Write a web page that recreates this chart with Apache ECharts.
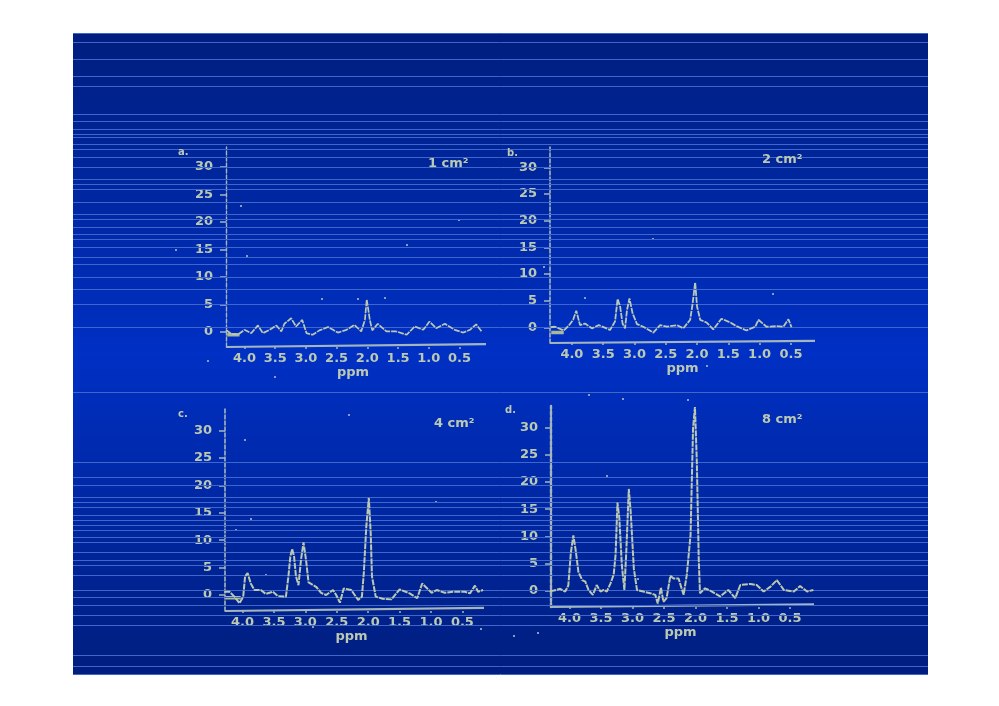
<!DOCTYPE html>
<html><head><meta charset="utf-8">
<style>html,body{margin:0;padding:0;background:#fff}#c{width:999px;height:706px}</style>
<script src="https://cdn.jsdelivr.net/npm/echarts@6/dist/echarts.min.js"></script>
</head><body><div id="c"></div>
<script>
const yTicks = [0,5,10,15,20,25,30];
const xTicks = [4.0,3.5,3.0,2.5,2.0,1.5,1.0,0.5];
const panelLetters = ['a.','b.','c.','d.'];
const panelAreas = ['1 cm²','2 cm²','4 cm²','8 cm²'];

const ppmA = [4.30,4.22,4.11,4.00,3.89,3.78,3.70,3.59,3.48,3.40,3.35,3.24,3.16,3.06,2.99,2.89,2.78,2.64,2.56,2.48,2.34,2.21,2.10,2.04,2.01,1.96,1.92,1.83,1.69,1.53,1.36,1.23,1.09,0.99,0.88,0.74,0.58,0.44,0.33,0.23,0.14];
const intA = [0.4,-0.3,-0.5,0.4,-0.2,1.2,-0.2,0.4,1.2,0.1,1.5,2.5,1,2.2,-0.2,-0.5,0.3,0.9,0.4,-0.1,0.4,1.3,0.1,2.2,5.9,2.2,0.3,1.5,0.1,0.1,-0.5,1,0.4,1.9,0.7,1.5,0.4,-0.1,0.4,1.4,0.1];

const ppmB = [4.34,4.27,4.13,4.05,3.98,3.93,3.87,3.79,3.68,3.57,3.39,3.31,3.27,3.23,3.19,3.15,3.12,3.08,3.03,2.96,2.86,2.70,2.59,2.48,2.32,2.22,2.11,2.07,2.03,2.00,1.95,1.85,1.74,1.61,1.47,1.37,1.21,1.07,1.02,0.89,0.73,0.62,0.54,0.49];
const intB = [0,0.1,-0.6,0.3,1.4,3.1,0.4,0.7,-0.2,0.4,-0.5,1.1,5.3,3.9,0.7,-0.2,3.2,5.4,2.6,0.6,0.1,-1,0.4,0.1,0.4,-0.2,1.4,4.5,8.4,3.9,1.4,0.9,-0.4,1.6,0.9,0.2,-0.6,0.1,1.4,0.1,0.2,0.1,1.5,0];

const ppmC = [4.29,4.21,4.13,4.05,3.99,3.96,3.92,3.87,3.81,3.71,3.63,3.52,3.44,3.31,3.27,3.24,3.21,3.18,3.15,3.11,3.07,3.03,2.99,2.95,2.83,2.75,2.67,2.56,2.51,2.45,2.39,2.27,2.16,2.10,2.07,2.03,1.99,1.96,1.94,1.88,1.77,1.63,1.50,1.34,1.22,1.14,0.99,0.91,0.78,0.65,0.46,0.38,0.30,0.25,0.17];
const intC = [0.6,0.6,-0.3,-1.5,-0.3,3.4,4,2.1,0.9,0.9,0.2,0.6,-0.2,-0.3,3.4,7,8.4,7,3.4,1.8,6.4,9.6,6.4,2.3,1.5,0.4,0,0.9,0,-1.4,1.2,0.9,-0.9,-0.3,4,12.5,17.7,11.3,3.4,-0.3,-0.7,-0.8,1,0.3,-0.6,2.1,0.4,0.9,0.4,0.6,0.6,0.3,1.7,0.6,0.9];

const ppmD = [4.31,4.25,4.15,4.07,4.02,3.98,3.94,3.90,3.86,3.80,3.75,3.70,3.63,3.57,3.51,3.46,3.41,3.35,3.30,3.27,3.24,3.21,3.17,3.13,3.10,3.06,3.03,2.98,2.93,2.83,2.72,2.64,2.60,2.55,2.51,2.46,2.40,2.35,2.27,2.19,2.14,2.08,2.04,2.01,1.98,1.95,1.93,1.85,1.74,1.61,1.48,1.37,1.29,1.13,1.03,0.92,0.81,0.71,0.60,0.44,0.34,0.23,0.13];
const intD = [0,0.1,0.4,-0.1,1,7,10.2,7.2,3.5,2,1.7,0.2,-0.7,1.1,-0.1,0.2,-0.1,1.4,3,6.6,16.2,13.3,4.7,0.2,7.2,18.7,14.5,4.1,0.2,-0.1,-0.4,-0.7,-2.3,0.6,-2,-1.3,2.8,2.3,2.3,-0.7,2.9,10.2,29.8,33.7,23.7,6,-0.4,0.5,-0.1,-1,0.2,-1.3,1.1,1.3,1.1,-0.1,0.8,2,0.2,-0.1,0.9,-0.1,0.2];

const scanLines = [42,59,76,86,114,121,129,134,137,144,149,157,167,179,184,189,202,214,219,227,234,239,247,257,264,277,289,304,327,392,462,477,485,497,502,507,515,520,525,530,537,542,552,560,565,575,590,597,605,615,625,655,666];
const specks = [[241,206],[247,256],[459,220],[407,245],[176,250],[358,299],[385,298],[322,299],[275,377],[208,361],[653,239],[585,298],[773,294],[544,267],[707,366],[349,415],[245,440],[251,519],[436,502],[236,530],[266,575],[481,629],[313,627],[589,395],[623,399],[688,400],[607,476],[638,579],[538,633],[514,636]];

const layout = [
 {ppm:ppmA,int:intA,left:226,right:486,top:147,bottom:347,xMax:4.30,xMin:0.07,yMin:-2.72,yMax:33.6,yEnd:-2.18,nameGap:18,nameShift:3,labelX:178,labelY:153,areaX:428,areaY:165,axisW:1.4,lineW:1.7,stub:[4.28,4.08,-0.5]},
 {ppm:ppmB,int:intB,left:550,right:815,top:147,bottom:343,xMax:4.35,xMin:0.115,yMin:-2.95,yMax:33.8,yEnd:-2.57,nameGap:19,nameShift:0,labelX:507,labelY:154,areaX:762,areaY:161,axisW:1.6,lineW:1.8,stub:[4.33,4.13,-1.0]},
 {ppm:ppmC,int:intC,left:225,right:484,top:408,bottom:611,xMax:4.28,xMin:0.156,yMin:-2.92,yMax:34.1,yEnd:-2.34,nameGap:18,nameShift:3,labelX:178,labelY:415,areaX:434,areaY:425,axisW:1.6,lineW:2,stub:[4.27,4.03,-0.5]},
 {ppm:ppmD,int:intD,left:551,right:814,top:406,bottom:607,xMax:4.295,xMin:0.12,yMin:-2.93,yMax:33.9,yEnd:-2.44,nameGap:19,nameShift:2,labelX:505,labelY:411,areaX:762,areaY:421,axisW:2.4,lineW:2,stub:null}
];

const SAGE = '#bcc9b2', AX = '#a4b6bd';
const font = {fontFamily:'DejaVu Sans',fontWeight:'bold',color:SAGE};
const chart = echarts.init(document.getElementById('c'),null,{renderer:'canvas'});

const grid=[{left:73,top:33,width:855,height:641,show:true,borderWidth:0,
  backgroundColor:new echarts.graphic.LinearGradient(0,0,0,1,[{offset:0,color:'#001e7e'},{offset:0.5,color:'#0030c4'},{offset:1,color:'#001e7e'}])}];
const xAxis=[{gridIndex:0,type:'value',min:73,max:928,show:false}];
const yAxis=[{gridIndex:0,type:'value',min:33,max:674,inverse:true,show:false}];
const series=[
 {type:'line',xAxisIndex:0,yAxisIndex:0,data:[],silent:true,z:1,
  markLine:{silent:true,symbol:'none',animation:false,label:{show:false},
    lineStyle:{color:'#3f66cc',width:1,type:'solid'},data:[33,...scanLines,674].map(v=>({yAxis:v}))}},
 {type:'scatter',xAxisIndex:0,yAxisIndex:0,data:specks,symbol:'rect',symbolSize:2,silent:true,z:2,itemStyle:{color:'#a9bccf'}}
];
const texts=[];

layout.forEach((p,i)=>{
  const g=i+1;
  grid.push({left:p.left,top:p.top,width:p.right-p.left,height:p.bottom-p.top,z:3});
  xAxis.push({gridIndex:g,type:'value',inverse:true,min:p.xMin,max:p.xMax,
    name:'ppm',nameLocation:'middle',nameGap:p.nameGap,
    nameTextStyle:{...font,fontSize:13,padding:[0,p.nameShift*2,0,0]},
    axisLine:{show:false,onZero:false},splitLine:{show:false},
    axisTick:{show:true,customValues:xTicks,length:2,lineStyle:{color:AX,width:1.5}},
    axisLabel:{show:true,customValues:xTicks,formatter:v=>v.toFixed(1),...font,fontSize:13,margin:5}});
  yAxis.push({gridIndex:g,type:'value',min:p.yMin,max:p.yMax,position:'left',
    axisLine:{show:true,onZero:false,lineStyle:{color:AX,width:p.axisW,type:[4,2]}},splitLine:{show:false},
    axisTick:{show:true,customValues:yTicks,length:6,lineStyle:{color:AX,width:1.5}},
    axisLabel:{show:true,customValues:yTicks,...font,fontSize:13,margin:13}});
  series.push({type:'line',name:'baseline'+i,xAxisIndex:g,yAxisIndex:g,data:[[p.xMax,p.yMin],[p.xMin,p.yEnd]],showSymbol:false,silent:true,z:4,clip:false,
    lineStyle:{color:AX,width:2.2}});
  if(p.stub) series.push({type:'line',name:'stub'+i,xAxisIndex:g,yAxisIndex:g,data:[[p.stub[0],p.stub[2]],[p.stub[1],p.stub[2]]],showSymbol:false,silent:true,z:4,
    lineStyle:{color:'#a8b89a',width:3.5}});
  series.push({type:'line',name:panelAreas[i],xAxisIndex:g,yAxisIndex:g,data:p.ppm.map((x,k)=>[x,p.int[k]]),showSymbol:false,silent:true,z:5,clip:false,
    lineStyle:{color:SAGE,width:p.lineW,type:[6,1]}});
  texts.push({left:p.labelX,top:p.labelY-6,padding:0,text:panelLetters[i],textStyle:{...font,fontSize:10}});
  texts.push({left:p.areaX,top:p.areaY-8,padding:0,text:panelAreas[i],textStyle:{...font,fontSize:13}});
});

chart.setOption({animation:false,backgroundColor:'#fff',title:texts,grid,xAxis,yAxis,series});
</script></body></html>
